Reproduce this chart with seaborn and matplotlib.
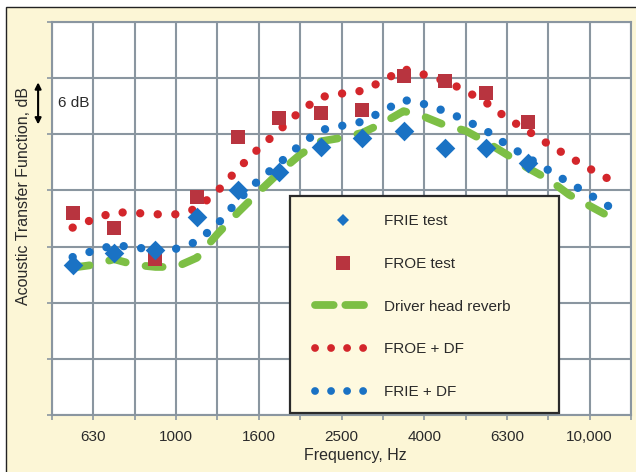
import seaborn as sns
import matplotlib.pyplot as plt
from matplotlib.lines import Line2D
from matplotlib.patches import Rectangle

# third-octave grid (Hz) and its labels
band_freq = [501, 631, 794, 1000, 1259, 1585, 1995, 2512, 3162, 3981, 5012, 6310, 7943, 10000, 12589]
band_labels = ["", "630", "", "1000", "", "1600", "", "2500", "", "4000", "", "6300", "", "10,000", ""]

# measured points
test_freq = [562, 708, 891, 1122, 1413, 1778, 2239, 2818, 3548, 4467, 5623, 7079]
frie_test = [21.4, 23.1, 23.5, 28.2, 32.1, 34.6, 38.2, 39.5, 40.5, 38.1, 38.1, 35.9]
froe_test = [28.8, 26.7, 22.2, 31.1, 39.6, 42.3, 43.0, 43.5, 48.3, 47.6, 45.9, 41.8]

# predicted curves
curve_freq = [562, 631, 708, 794, 891, 1000, 1122, 1259, 1413, 1585, 1778, 1995, 2239, 2512,
              2818, 3162, 3548, 3981, 4467, 5012, 5623, 6310, 7079, 7943, 8913, 10000, 11220]
froe_df = [26.7, 27.9, 28.9, 28.8, 28.6, 28.6, 29.4, 31.9, 35.1, 38.0, 40.6, 43.3, 45.3, 45.8,
           46.2, 47.6, 49.3, 48.5, 47.6, 46.2, 44.5, 42.3, 40.5, 38.6, 36.8, 35.1, 33.5]
frie_df = [22.5, 23.4, 24.2, 23.9, 23.5, 23.7, 24.7, 27.2, 30.6, 33.5, 35.9, 38.5, 40.6, 41.2,
           41.8, 43.3, 44.9, 44.3, 43.3, 42.0, 40.5, 38.5, 36.7, 34.9, 33.1, 31.4, 29.6]
driver_reverb = [21.0, 21.4, 22.2, 21.4, 21.1, 21.1, 22.4, 25.8, 28.9, 31.8, 34.6, 37.1, 39.0, 39.5,
                 40.2, 41.6, 43.3, 42.5, 41.3, 40.5, 38.9, 37.1, 35.2, 33.6, 31.4, 29.8, 28.2]

blue = "#1a72c4"
red_sq = "#b8343f"
red_dot = "#d3262b"
green = "#7dbf45"
gridc = "#8a96a0"
cream = "#fcf6d6"
textc = "#2a2a2a"

sns.set_theme(style="white")
plt.rcParams["font.family"] = ["Liberation Sans", "DejaVu Sans"]

fig = plt.figure(figsize=(6.36, 4.72), dpi=100, facecolor="white")
fig.patches.append(Rectangle((6 / 636, -0.1), 1.2, (472 - 7) / 472 + 0.1, transform=fig.transFigure,
                             facecolor=cream, edgecolor="#222222", lw=1, zorder=-5))
ax = fig.add_axes([52 / 636, 57 / 472, 579 / 636, 393 / 472])
ax.set_facecolor("white")

# curves
sns.lineplot(x=curve_freq, y=driver_reverb, color=green, lw=5.6, ax=ax, zorder=2)
ln = ax.lines[-1]
ln.set_dashes((2.2, 2.6))
ln.set_dash_capstyle("round")

sns.lineplot(x=curve_freq, y=froe_df, color=red_dot, lw=6, ax=ax, zorder=2)
ln = ax.lines[-1]
ln.set_dashes((0.01, 2.1))
ln.set_dash_capstyle("round")

sns.lineplot(x=curve_freq, y=frie_df, color=blue, lw=6, ax=ax, zorder=2)
ln = ax.lines[-1]
ln.set_dashes((0.01, 2.1))
ln.set_dash_capstyle("round")

# test points
sns.scatterplot(x=test_freq, y=froe_test, marker="s", s=100, color=red_sq, linewidth=0, ax=ax, zorder=3)
sns.scatterplot(x=test_freq, y=frie_test, marker="D", s=100, color=blue, linewidth=0, ax=ax, zorder=3)

ax.set_xscale("log")
ax.set_xlim(band_freq[0], band_freq[-1])
ax.set_ylim(0, 56)
ax.set_xticks(band_freq)
ax.set_xticklabels(band_labels)
ax.xaxis.set_minor_locator(plt.NullLocator())
ax.set_yticks(range(0, 57, 8))
ax.set_yticklabels([])
ax.grid(True, color=gridc, lw=1.5)
ax.set_axisbelow(True)
for sp in ax.spines.values():
    sp.set_color(gridc)
    sp.set_linewidth(1.5)
ax.tick_params(axis="both", which="major", length=3.6, width=1.2, color=gridc,
               labelsize=11, labelcolor=textc, pad=7, bottom=True, left=True)

ax.set_xlabel("Frequency, Hz", fontsize=11.5, color=textc)
ax.xaxis.set_label_coords(0.523, -0.085)
ax.set_ylabel("Acoustic Transfer Function, dB", fontsize=11.5, color=textc)
ax.yaxis.set_label_coords(-0.036, 0.557)

# 6 dB scale marker
ax.annotate("", xy=(-0.024, 47.4), xytext=(-0.024, 41.4), xycoords=("axes fraction", "data"),
            arrowprops=dict(arrowstyle="<|-|>", color="black", lw=1.5, mutation_scale=9,
                            shrinkA=0, shrinkB=0), annotation_clip=False)
ax.text(0.010, 44.5, "6 dB", transform=ax.get_yaxis_transform(), fontsize=11, color=textc,
        ha="left", va="center")

# legend box
box = Rectangle((238 / 579, 2 / 393), 269 / 579, 217 / 393, transform=ax.transAxes,
                facecolor="#fef9df", edgecolor="#2a2a2a", lw=1.6, zorder=4)
ax.add_patch(box)
handles = [
    Line2D([], [], ls="none", marker="D", ms=6.3, color=blue, mew=0),
    Line2D([], [], ls="none", marker="s", ms=9.4, color=red_sq, mew=0),
    Line2D([], [], color=green, lw=5.6, dashes=(2.4, 1.5), dash_capstyle="round"),
    Line2D([], [], color=red_dot, lw=5.6, dashes=(0.01, 2.05), dash_capstyle="round"),
    Line2D([], [], color=blue, lw=5.6, dashes=(0.01, 2.05), dash_capstyle="round"),
]
labels = ["FRIE test", "FROE test", "Driver head reverb", "FROE + DF", "FRIE + DF"]
leg = ax.legend(handles, labels, loc="upper left", bbox_to_anchor=(0.4542, 0.511), frameon=False,
                fontsize=11, handlelength=3.7, handletextpad=0.85, labelspacing=1.88,
                borderpad=0, borderaxespad=0)
leg.set_zorder(6)
for t in leg.get_texts():
    t.set_color(textc)

fig.savefig("out.png", dpi=100, facecolor=fig.get_facecolor())
